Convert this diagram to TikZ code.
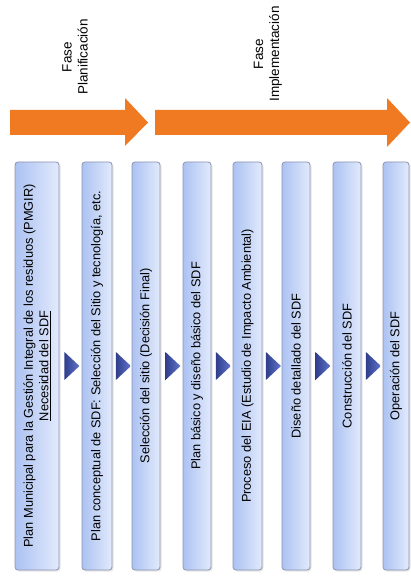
\documentclass[tikz,border=0pt]{standalone}
\usepackage{fontspec}
\setmainfont{Liberation Sans}
\usetikzlibrary{shapes.geometric, calc, shadows}
\definecolor{phaseorange}{RGB}{240,122,34}
\definecolor{boxblue}{RGB}{172,194,242}
\definecolor{boxlight}{RGB}{226,234,252}
\definecolor{boxline}{RGB}{140,148,176}
\definecolor{tridark}{RGB}{48,62,140}
\definecolor{trilight}{RGB}{96,116,204}
\tikzset{
  stepbox/.style={
    draw=boxline, line width=0.8pt, rounded corners=3pt,
    left color=boxblue, right color=boxlight, % left edge darker
    drop shadow={opacity=0.2, shadow xshift=1.5pt, shadow yshift=-1.5pt},
    rotate=90, inner sep=2pt, align=center,
    font=\fontsize{12.8}{15.5}\selectfont
  }
}
\tikzset{
  steparrow/.style={
    isosceles triangle, isosceles triangle stretches,
    left color=tridark, right color=trilight,
    minimum width=28pt, minimum height=15pt, inner sep=0pt
  }
}
\tikzset{
  phasearrow/.style={fill=phaseorange},
  phaselabel/.style={rotate=90, align=center, font=\fontsize{13.5}{16}\selectfont}
}

\begin{document}
\begin{tikzpicture}[x=1pt, y=-1pt]
    \useasboundingbox (0,0) rectangle (411,577);

    % Phase arrows
    \fill[phasearrow] (10,110) -- (125,110) -- (125,98) -- (148,122.5) -- (125,146) -- (125,135) -- (10,135) -- cycle;
    \fill[phasearrow] (155,110) -- (387,110) -- (387,98) -- (410,122.5) -- (387,147) -- (387,135) -- (155,135) -- cycle;
    \node[phaselabel] (plan) at (75,57) {Fase\\Planificación};
    \node[phaselabel] (impl) at (268,54) {Fase\\Implementación};

    % Steps
    \def\ytop{162}
    \def\ybot{570}
    \foreach \n/\xa/\xb/\txt in {
        1/15/59/{Plan Municipal para la Gestión Integral de los residuos (PMGIR)\\\underline{Necesidad del SDF}},
        2/82/112/{Plan conceptual de SDF: Selección del Sitio y tecnología, etc.},
        3/132/160/{Selección del sitio (Decisión Final)},
        4/183/211/{Plan básico y diseño básico del SDF},
        5/233/262/{Proceso del EIA (Estudio de Impacto Ambiental)},
        6/282/310/{Diseño detallado del SDF},
        7/333/361/{Construcción del SDF},
        8/383/409/{Operación del SDF}} {
        \pgfmathsetmacro\w{\xb-\xa}
        \pgfmathsetmacro\h{\ybot-\ytop}
        \node[stepbox, minimum width=\h pt, minimum height=\w pt] (s\n) at ({(\xa+\xb)/2}, {(\ytop+\ybot)/2}) {\txt};
    }

    % Triangles between the steps
    \foreach \i in {1,...,7} {
        \pgfmathtruncatemacro\j{\i+1}
        \node[steparrow] (t\i) at ($(s\i.south)!0.5!(s\j.north)$) {};
    }
\end{tikzpicture}
\end{document}
